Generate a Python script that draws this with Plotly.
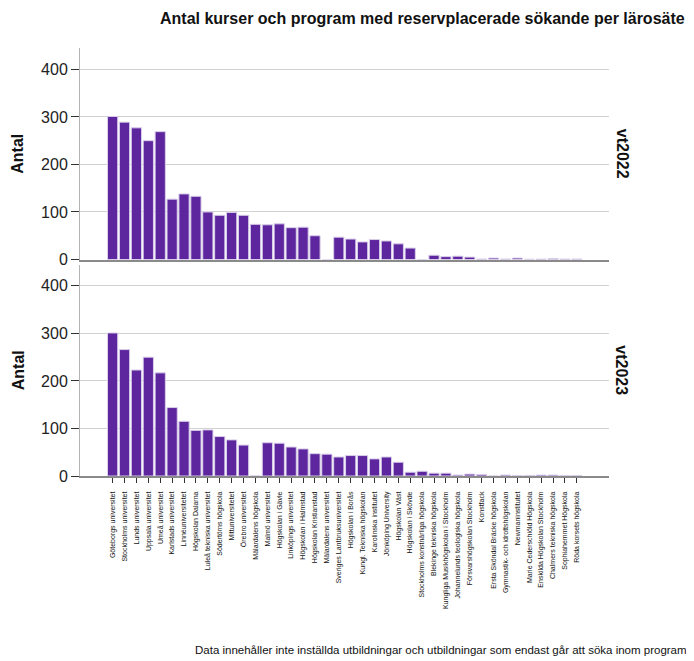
import plotly.graph_objects as go
from plotly.subplots import make_subplots

categories = [
    "Göteborgs universitet", "Stockholms universitet", "Lunds universitet",
    "Uppsala universitet", "Umeå universitet", "Karlstads universitet",
    "Linnéuniversitetet", "Högskolan Dalarna", "Luleå tekniska universitet",
    "Södertörns högskola", "Mittuniversitetet", "Örebro universitet",
    "Mälardalens högskola", "Malmö universitet", "Högskolan i Gävle",
    "Linköpings universitet", "Högskolan i Halmstad", "Högskolan Kristianstad",
    "Mälardalens universitet", "Sveriges Lantbruksuniversitet", "Högskolan i Borås",
    "Kungl. Tekniska högskolan", "Karolinska institutet", "Jönköping University",
    "Högskolan Väst", "Högskolan i Skövde", "Stockholms konstnärliga högskola",
    "Blekinge tekniska högskola", "Kungliga Musikhögskolan i Stockholm",
    "Johannelunds teologiska högskola", "Försvarshögskolan Stockholm", "Konstfack",
    "Ersta Sköndal Bräcke högskola", "Gymnastik- och idrottshögskolan",
    "Newmaninstitutet", "Marie Cederschiöld Högskola", "Enskilda Högskolan Stockholm",
    "Chalmers tekniska högskola", "Sophiahemmet Högskola", "Röda korsets högskola",
]

vt2022 = [301, 289, 277, 250, 269, 127, 138, 133, 100, 93, 99, 93, 74, 73, 75, 67,
          68, 50, 0, 47, 43, 37, 42, 39, 33, 24, 0, 9, 6, 7, 5, 1, 3, 1, 3, 0.6,
          0.8, 2, 1, 1]
vt2023 = [301, 266, 223, 250, 217, 144, 115, 96, 97, 83, 76, 65, 0, 70, 69, 61,
          57, 47, 46, 40, 43, 43, 36, 40, 29, 8, 10, 6, 6, 2, 4, 3, 0, 2, 0.6, 1.2,
          2, 2, 1, 1]

terms = ["vt2022", "vt2023"]
series = [vt2022, vt2023]

title_text = "Antal kurser och program med reservplacerade sökande per lärosäte"
footer_text = "Data innehåller inte inställda utbildningar och utbildningar som endast går att söka inom program"
y_title = "Antal"
y_ticks = [0, 100, 200, 300, 400]

BAR = "#5e269e"
FONT = "Liberation Sans, Arial, sans-serif"

# page body has an 8px default margin; the figure is sized to fit the window
OFF = 8
W, H = 694 - OFF, 661 - OFF
ml, mt = 80 - OFF, 48 - OFF
mr = W - (609 - OFF)
mb = H - (476 - OFF)
plot_w = W - ml - mr
plot_h = H - mt - mb

fig = make_subplots(rows=2, cols=1, shared_xaxes=True, vertical_spacing=5 / plot_h)

for i, vals in enumerate(series):
    fig.add_trace(
        go.Bar(
            x=categories, y=vals, name=terms[i],
            marker=dict(color=BAR, line=dict(color="#d9cfea", width=1)),
            showlegend=False,
        ),
        row=i + 1, col=1,
    )

xrange = [-2.74, 41.7]
for i in range(2):
    fig.update_yaxes(
        range=[0, 445], tickmode="array", tickvals=y_ticks,
        showgrid=True, gridcolor="#d2d2d2", gridwidth=1,
        showline=True, linecolor="#b4b4b4", linewidth=1,
        ticks="outside", ticklen=8, tickcolor="#333", tickwidth=1,
        zeroline=False, automargin=False,
        tickfont=dict(family=FONT, size=16, color="#222"),
        row=i + 1, col=1,
    )
    fig.update_xaxes(
        type="category", range=xrange,
        showline=True, linecolor="#8a8a8a", linewidth=1.5,
        showgrid=False, zeroline=False, automargin=False,
        row=i + 1, col=1,
    )

fig.update_xaxes(showticklabels=False, ticks="", row=1, col=1)
fig.update_xaxes(
    ticks="outside", ticklen=5, tickcolor="#333",
    tickmode="array", tickvals=categories, ticktext=categories,
    tickangle=-90, showticklabels=True, ticklabelstandoff=6,
    tickfont=dict(family=FONT, size=7, color="#111"),
    row=2, col=1,
)

annotations = []
for i, t in enumerate(terms):
    dom = fig.layout["yaxis" + ("" if i == 0 else str(i + 1))].domain
    mid = (dom[0] + dom[1]) / 2
    annotations.append(dict(
        text="<b>%s</b>" % t, xref="paper", yref="paper",
        x=(622 - OFF - ml) / plot_w, y=mid,
        xanchor="center", yanchor="middle", textangle=90, showarrow=False,
        font=dict(family=FONT, size=16, color="#111"),
    ))
    annotations.append(dict(
        text="<b>%s</b>" % y_title, xref="paper", yref="paper",
        x=(18 - OFF - ml) / plot_w, y=mid,
        xanchor="center", yanchor="middle", textangle=-90, showarrow=False,
        font=dict(family=FONT, size=16, color="#111"),
    ))
annotations.append(dict(
    text=footer_text, xref="paper", yref="paper",
    x=(193 - OFF - ml) / plot_w, y=-(650 - 476) / plot_h,
    xanchor="left", yanchor="middle", showarrow=False,
    font=dict(family=FONT, size=11.5, color="#111"),
))

fig.update_layout(
    width=W, height=H,
    margin=dict(l=ml, r=mr, t=mt, b=mb, autoexpand=False),
    paper_bgcolor="white", plot_bgcolor="white",
    bargap=0.14,
    title=dict(text="<b>%s</b>" % title_text, xref="container", yref="container",
               x=(160 - OFF) / W, xanchor="left", y=1 - (18 - OFF) / H, yanchor="middle",
               font=dict(family=FONT, size=16, color="#111")),
    annotations=annotations,
    font=dict(family=FONT),
)

fig.write_html("out.html")
